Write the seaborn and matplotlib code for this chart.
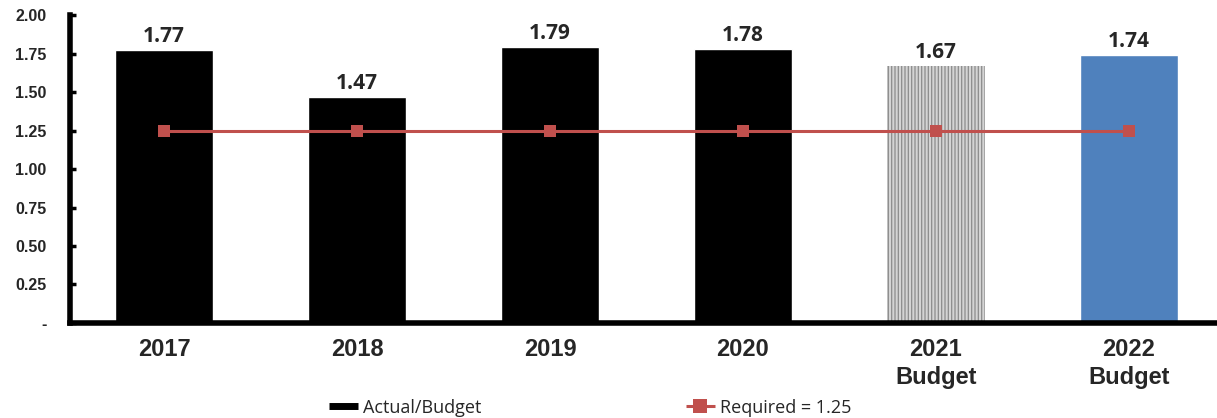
import matplotlib
matplotlib.use("Agg")
import matplotlib.pyplot as plt
import seaborn as sns
import pandas as pd
from matplotlib.lines import Line2D

years = ["2017", "2018", "2019", "2020", "2021\nBudget", "2022\nBudget"]
coverage = [1.77, 1.47, 1.79, 1.78, 1.67, 1.74]
required = [1.25, 1.25, 1.25, 1.25, 1.25, 1.25]
ytick_values = [0.0, 0.25, 0.5, 0.75, 1.0, 1.25, 1.5, 1.75, 2.0]
ytick_labels = ["-", "0.25", "0.50", "0.75", "1.00", "1.25", "1.50", "1.75", "2.00"]

bar_colors = ["#000000", "#000000", "#000000", "#000000", "#d4d4d4", "#4F81BD"]
line_color = "#C0504D"

sns.set_theme(style="white")
plt.rcParams["font.family"] = ["Liberation Sans", "DejaVu Sans"]
plt.rcParams["hatch.linewidth"] = 0.9

df = pd.DataFrame({"year": years, "coverage": coverage, "required": required})

fig = plt.figure(figsize=(12.17, 4.18), dpi=100)
ax = fig.add_axes([0.0575, 0.2273, 0.9425, 0.7367])

sns.barplot(data=df, x="year", y="coverage", hue="year", palette=bar_colors,
            width=0.51, legend=False, ax=ax, saturation=1)

# budget year bar drawn with a fine grey texture
patch_2021 = ax.patches[4]
patch_2021.set_hatch("|||||")
patch_2021.set_edgecolor("#8c8c8c")
patch_2021.set_linewidth(0)

sns.lineplot(x=range(len(years)), y=required, color=line_color, lw=2.2,
             marker="s", markersize=9, markeredgewidth=0, ax=ax)

for i, v in enumerate(coverage):
    ax.text(i, v + 0.02, f"{v:.2f}", ha="center", va="bottom",
            fontsize=15, fontweight="bold", family=["Open Sans", "DejaVu Sans"])

ax.set_xlim(-0.487, 5.456)
ax.set_ylim(0, 2.0)
ax.set_yticks(ytick_values)
ax.set_yticklabels(ytick_labels, fontsize=11.5, fontweight="bold")
ax.set_xticks(range(len(years)))
ax.set_xticklabels(years, fontsize=17, fontweight="bold", linespacing=1.25)
ax.set_xlabel("")
ax.set_ylabel("")
ax.tick_params(axis="y", direction="in", length=4, width=2.5, color="black",
               left=True, pad=17)
ax.tick_params(axis="x", length=0, pad=11)

for side in ["left", "bottom"]:
    ax.spines[side].set_linewidth(4)
    ax.spines[side].set_color("black")
for side in ["top", "right"]:
    ax.spines[side].set_visible(False)

handles = [
    Line2D([0], [0], color="black", lw=5, solid_capstyle="butt"),
    Line2D([0], [0], color=line_color, lw=2.2, marker="s", markersize=10,
           markeredgewidth=0, solid_capstyle="butt"),
]
fig.legend(handles, ["Actual/Budget", "Required = 1.25"], loc="center",
           bbox_to_anchor=(0.485, 0.025), ncol=2, frameon=False,
           columnspacing=11.3, handlelength=1.6, handletextpad=0.3,
           prop={"family": "Open Sans", "size": 13})

fig.savefig("out.png", dpi=100)
